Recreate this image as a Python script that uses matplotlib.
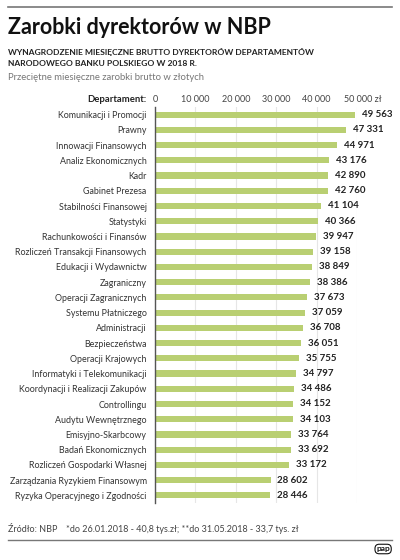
import matplotlib
matplotlib.use("Agg")
import matplotlib.pyplot as plt
from matplotlib.lines import Line2D

plt.rcParams['font.family'] = ['Lato', 'DejaVu Sans']

departments = [
    "Komunikacji i Promocji", "Prawny", "Innowacji Finansowych", "Analiz Ekonomicznych",
    "Kadr", "Gabinet Prezesa", "Stabilności Finansowej", "Statystyki",
    "Rachunkowości i Finansów", "Rozliczeń Transakcji Finansowych", "Edukacji i Wydawnictw",
    "Zagraniczny", "Operacji Zagranicznych", "Systemu Płatniczego", "Administracji",
    "Bezpieczeństwa", "Operacji Krajowych", "Informatyki i Telekomunikacji",
    "Koordynacji i Realizacji Zakupów", "Controllingu", "Audytu Wewnętrznego",
    "Emisyjno-Skarbcowy", "Badań Ekonomicznych", "Rozliczeń Gospodarki Własnej",
    "Zarządzania Ryzykiem Finansowym", "Ryzyka Operacyjnego i Zgodności",
]
salaries = [49563, 47331, 44971, 43176, 42890, 42760, 41104, 40366, 39947, 39158,
            38849, 38386, 37673, 37059, 36708, 36051, 35755, 34797, 34486, 34152,
            34103, 33764, 33692, 33172, 28602, 28446]
tick_values = [0, 10000, 20000, 30000, 40000, 50000]
tick_labels = ["0", "10 000", "20 000", "30 000", "40 000", "50 000 zł"]

W, H = 400, 560
fig = plt.figure(figsize=(W / 100, H / 100), dpi=100)
fig.patch.set_facecolor("white")

def fx(px):
    return px / W

def fy(py):
    return 1 - py / H

# axes: x 155..357 for 0..50000, y 107..503
ax = fig.add_axes([fx(155), fy(503), fx(357 - 155), (503 - 107) / H])
ypos = list(range(len(departments)))
ax.barh(ypos, salaries, height=0.4, color="#b9cf72", zorder=2)
ax.set_xlim(0, 50000)
ax.set_ylim(len(departments) - 0.5, -0.5)
ax.set_xticks(tick_values)
ax.xaxis.grid(True, color="#e6e6e6", linewidth=0.8, zorder=0)
ax.set_xticklabels([])
ax.tick_params(axis="both", length=0)
ax.set_yticks(ypos)
ax.set_yticklabels(departments, fontsize=6.4, color="#333333")
ax.tick_params(axis="y", pad=6)
for s in ["top", "right", "bottom"]:
    ax.spines[s].set_visible(False)
ax.spines["left"].set_color("#555555")
ax.spines["left"].set_linewidth(1.0)
ax.set_facecolor("none")

for y, v in zip(ypos, salaries):
    ax.annotate(f"{v:,}".replace(",", " "), (v, y), xytext=(5, 0), textcoords="offset points",
                va="center", ha="left", fontsize=7, fontweight="bold", color="#222222",
                clip_on=False)

# top tick labels
for tv, tl in zip(tick_values, tick_labels):
    x = 155 + (357 - 155) * tv / 50000
    ha = "center"
    if tl.endswith("zł"):
        x = x - 13
        ha = "left"
    fig.text(fx(x), fy(99), tl, ha=ha, va="center", fontsize=6.5, color="#444444")
fig.text(fx(147), fy(99), "Departament:", ha="right", va="center", fontsize=6.8,
         color="#222222", fontweight="bold")

# header
fig.add_artist(Line2D([fx(8), fx(392)], [fy(7), fy(7)], color="#777777", linewidth=1.2))
fig.text(fx(8), fy(27), "Zarobki dyrektorów w NBP", ha="left", va="center",
         fontsize=15.5, fontweight="bold", color="#111111")
fig.text(fx(8), fy(52), "WYNAGRODZENIE MIESIĘCZNE BRUTTO DYREKTORÓW DEPARTAMENTÓW",
         ha="left", va="center", fontsize=6.1, fontweight="bold", color="#222222")
fig.text(fx(8), fy(64), "NARODOWEGO BANKU POLSKIEGO W 2018 R.",
         ha="left", va="center", fontsize=6.1, fontweight="bold", color="#222222")
fig.text(fx(8), fy(77), "Przeciętne miesięczne zarobki brutto w złotych",
         ha="left", va="center", fontsize=6.8, color="#777777")

# footer
fig.text(fx(8), fy(530), "Źródło: NBP", ha="left", va="center", fontsize=6.5, color="#444444")
fig.text(fx(66), fy(530), "*do 26.01.2018 - 40,8 tys.zł; **do 31.05.2018 - 33,7 tys. zł",
         ha="left", va="center", fontsize=6.5, color="#444444")
fig.add_artist(Line2D([fx(8), fx(392)], [fy(540), fy(540)], color="#777777", linewidth=1.0))
fig.text(fx(390), fy(549), "pap", ha="right", va="center", fontsize=6, fontweight="bold",
         color="#111111",
         bbox=dict(boxstyle="round,pad=0.15,rounding_size=0.5", fc="white", ec="#111111", lw=0.8))

fig.savefig("out.png", dpi=100, facecolor="white")
